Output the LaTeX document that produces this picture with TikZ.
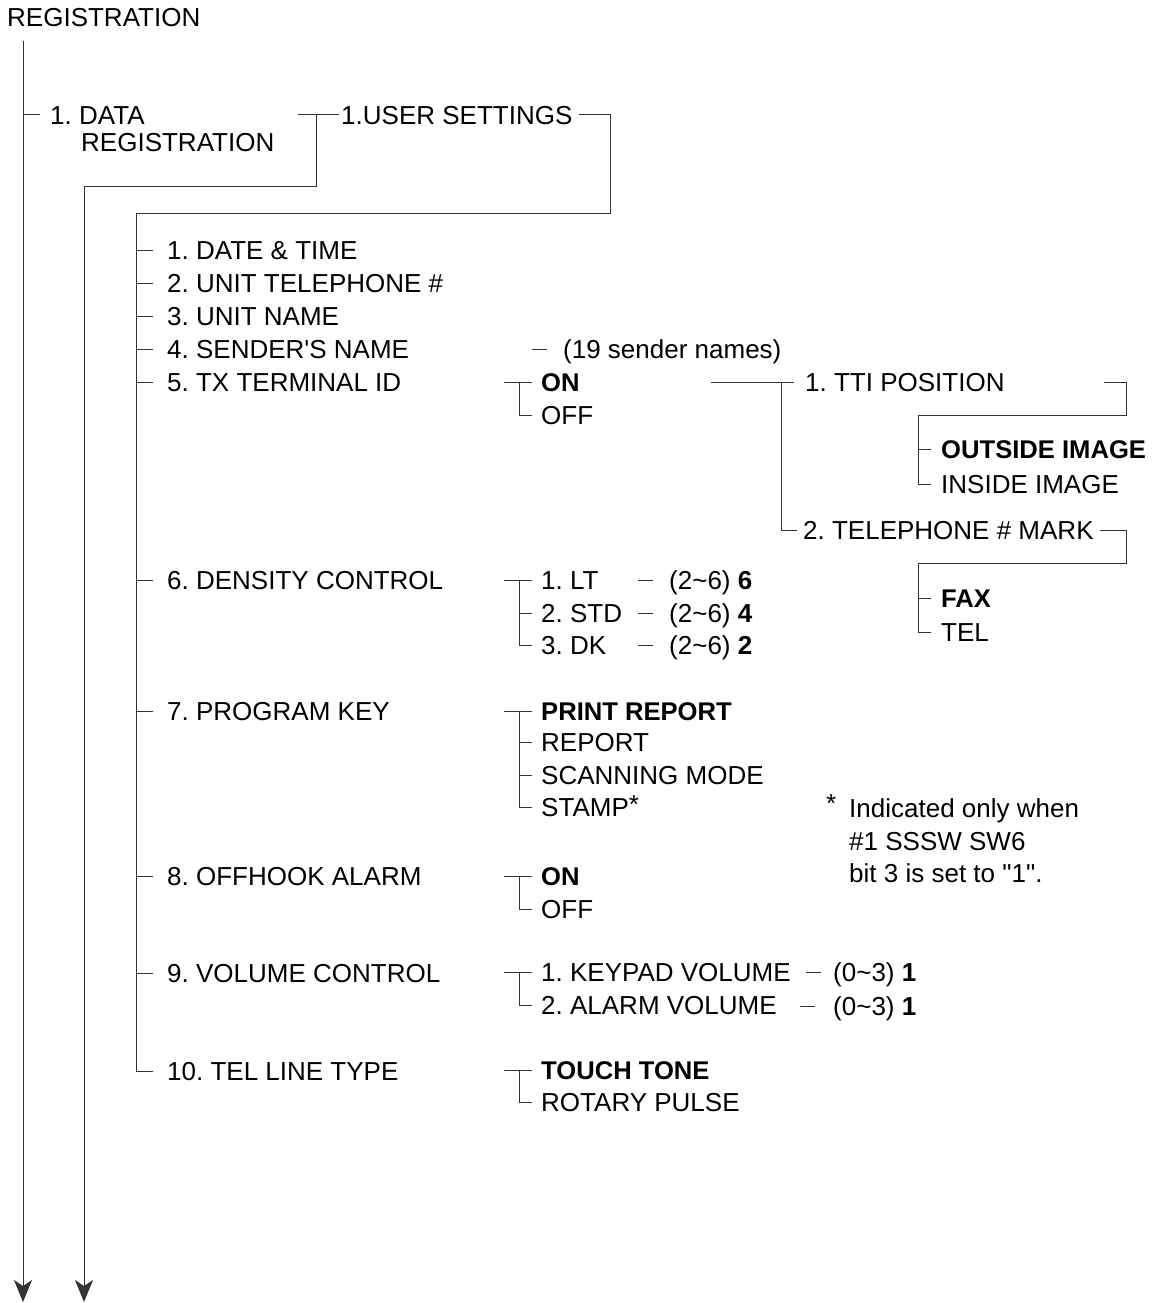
\documentclass[tikz,border=0pt]{standalone}
\usepackage{fontspec}
\setmainfont{Liberation Sans}[Ligatures=TeXOff]
\usetikzlibrary{arrows.meta}
\frenchspacing
\begin{document}
\begin{tikzpicture}[x=1pt,y=-1pt,
  font=\fontsize{26}{30}\selectfont\frenchspacing,
  txt/.style={anchor=west,inner sep=0pt,text height=18.6pt,text depth=0pt},
  bld/.style={txt,font=\fontsize{25.6}{30}\selectfont\frenchspacing\bfseries},
  ln/.style={line width=1pt,draw=black!80},
  arr/.style={ln,-{Stealth[length=22pt,width=18pt,inset=6pt]},fill=black}]
\useasboundingbox (0,0) rectangle (1154,1303);

% ---------- texts ----------
\node[txt] (reg) at (7,17.5) {REGISTRATION};
\node[txt] (dr) at (50,115) {1. DATA};
\node[txt] (dr2) at (81,142.5) {REGISTRATION};
\node[txt] (us) at (341,115) {1.USER SETTINGS};

\node[txt] (i1) at (167,250) {1. DATE \& TIME};
\node[txt] (i2) at (167,283) {2. UNIT TELEPHONE \#};
\node[txt] (i3) at (167,316) {3. UNIT NAME};
\node[txt] (i4) at (167,349) {4. SENDER'S NAME};
\node[txt] (i5) at (167,382) {5. TX TERMINAL ID};
\node[txt] (i6) at (167,580) {6. DENSITY CONTROL};
\node[txt] (i7) at (167,711) {7. PROGRAM KEY};
\node[txt] (i8) at (167,876) {8. OFFHOOK ALARM};
\node[txt] (i9) at (167,973) {9. VOLUME CONTROL};
\node[txt] (i10) at (167,1071) {10. TEL LINE TYPE};

\node[txt] (sn) at (563,349) {(19 sender names)};

\node[bld] (on5) at (541,382) {ON};
\node[txt] (off5) at (541,415) {OFF};
\node[txt] (tti) at (805,382) {1. TTI POSITION};
\node[txt] (tel) at (803,530) {2. TELEPHONE \# MARK};
\node[bld] (oi) at (941,449) {OUTSIDE IMAGE};
\node[txt] (ii) at (941,484) {INSIDE IMAGE};
\node[bld] (fax) at (941,598) {FAX};
\node[txt] (telo) at (941,632) {TEL};

\node[txt] (lt) at (541,580) {1. LT};
\node[txt] (std) at (541,613) {2. STD};
\node[txt] (dk) at (541,645) {3. DK};
\node[txt] (vlt) at (669,580) {(2\textasciitilde6) \textbf{6}};
\node[txt] (vstd) at (669,613) {(2\textasciitilde6) \textbf{4}};
\node[txt] (vdk) at (669,645) {(2\textasciitilde6) \textbf{2}};

\node[bld] (pr) at (541,711) {PRINT REPORT};
\node[txt] (rp) at (541,742) {REPORT};
\node[txt] (sc) at (541,775) {SCANNING MODE};
\node[txt] (st) at (541,807) {STAMP\raisebox{3pt}{*}};

\node[txt] (star) at (826,803) {*};
\node[txt] (fn1) at (849,808) {Indicated only when};
\node[txt] (fn2) at (849,841) {\#1 SSSW SW6};
\node[txt] (fn3) at (849,873) {bit 3 is set to "1".};

\node[bld] (on8) at (541,876) {ON};
\node[txt] (off8) at (541,909) {OFF};

\node[txt] (kv) at (541,972) {1. KEYPAD VOLUME};
\node[txt] (av) at (541,1005) {2. ALARM VOLUME};
\node[txt] (vk) at (833,972) {(0\textasciitilde3) \textbf{1}};
\node[txt] (va) at (833,1006) {(0\textasciitilde3) \textbf{1}};

\node[bld] (tt) at (541,1070) {TOUCH TONE};
\node[txt] (rpu) at (541,1102) {ROTARY PULSE};

% ---------- main trunks ----------
\coordinate (T1a) at (23,41);
\coordinate (T1b) at (23,1302);
\draw[arr] (T1a) -- (T1b);
\draw[ln] (T1a |- dr.west) -- ([xshift=-10pt]dr.west);

\coordinate (J1) at (316,115);
\coordinate (T2a) at (84,186);
\coordinate (T2b) at (84,1302);
\draw[ln] ([xshift=-43pt]us.west) -- ([xshift=-2pt]us.west);
\draw[ln] (J1) |- (T2a);
\draw[arr] (T2a) -- (T2b);

\coordinate (R1) at (610,213);
\coordinate (T3) at (136,213);
\draw[ln] ([xshift=6pt]us.east) -| (R1) -- (T3) |- ([xshift=-14pt]i10.west);
\foreach \n in {1,...,9}
  \draw[ln] (T3 |- i\n.west) -- ([xshift=-14pt]i\n.west);

% 4
\draw[ln] ([xshift=-31pt]sn.west) -- ([xshift=-16pt]sn.west);

% 5
\coordinate (B5) at (519,382);
\draw[ln] ([xshift=-15pt]B5) -- ([xshift=-9pt]on5.west);
\draw[ln] (B5) |- ([xshift=-9pt]off5.west);
\coordinate (B5b) at (781,382);
\draw[ln] ([xshift=-70pt]B5b) -- ([xshift=-11pt]tti.west);
\draw[ln] (B5b) |- ([xshift=-6pt]tel.west);
\coordinate (R2a) at (1104,382);
\coordinate (R2) at (1126,415);
\coordinate (B6) at (918,415);
\draw[ln] (R2a) -| (R2) -- (B6) |- ([xshift=-10pt]ii.west);
\draw[ln] (B6 |- oi.west) -- ([xshift=-10pt]oi.west);
\coordinate (R3) at (1126,563);
\coordinate (B7) at (918,563);
\draw[ln] ([xshift=6pt]tel.east) -| (R3) -- (B7) |- ([xshift=-10pt]telo.west);
\draw[ln] (B7 |- fax.west) -- ([xshift=-10pt]fax.west);

% 6
\coordinate (B6d) at (519,580);
\draw[ln] ([xshift=-15pt]B6d) -- ([xshift=-9pt]lt.west);
\draw[ln] (B6d |- std.west) -- ([xshift=-9pt]std.west);
\draw[ln] (B6d) |- ([xshift=-9pt]dk.west);
\foreach \v in {vlt,vstd,vdk}
  \draw[ln] ([xshift=-31pt]\v.west) -- ([xshift=-16pt]\v.west);

% 7
\coordinate (B7p) at (519,711);
\draw[ln] ([xshift=-15pt]B7p) -- ([xshift=-9pt]pr.west);
\draw[ln] (B7p |- rp.west) -- ([xshift=-9pt]rp.west);
\draw[ln] (B7p |- sc.west) -- ([xshift=-9pt]sc.west);
\draw[ln] (B7p) |- ([xshift=-9pt]st.west);

% 8
\coordinate (B8) at (519,876);
\draw[ln] ([xshift=-15pt]B8) -- ([xshift=-9pt]on8.west);
\draw[ln] (B8) |- ([xshift=-9pt]off8.west);

% 9
\coordinate (B9) at (519,972);
\draw[ln] ([xshift=-15pt]B9) -- ([xshift=-9pt]kv.west);
\draw[ln] (B9) |- ([xshift=-9pt]av.west);
\draw[ln] ([xshift=-27pt]vk.west) -- ([xshift=-12pt]vk.west);
\draw[ln] ([xshift=-33pt]va.west) -- ([xshift=-18pt]va.west);

% 10
\coordinate (B10) at (519,1070);
\draw[ln] ([xshift=-15pt]B10) -- ([xshift=-9pt]tt.west);
\draw[ln] (B10) |- ([xshift=-9pt]rpu.west);
\end{tikzpicture}
\end{document}
